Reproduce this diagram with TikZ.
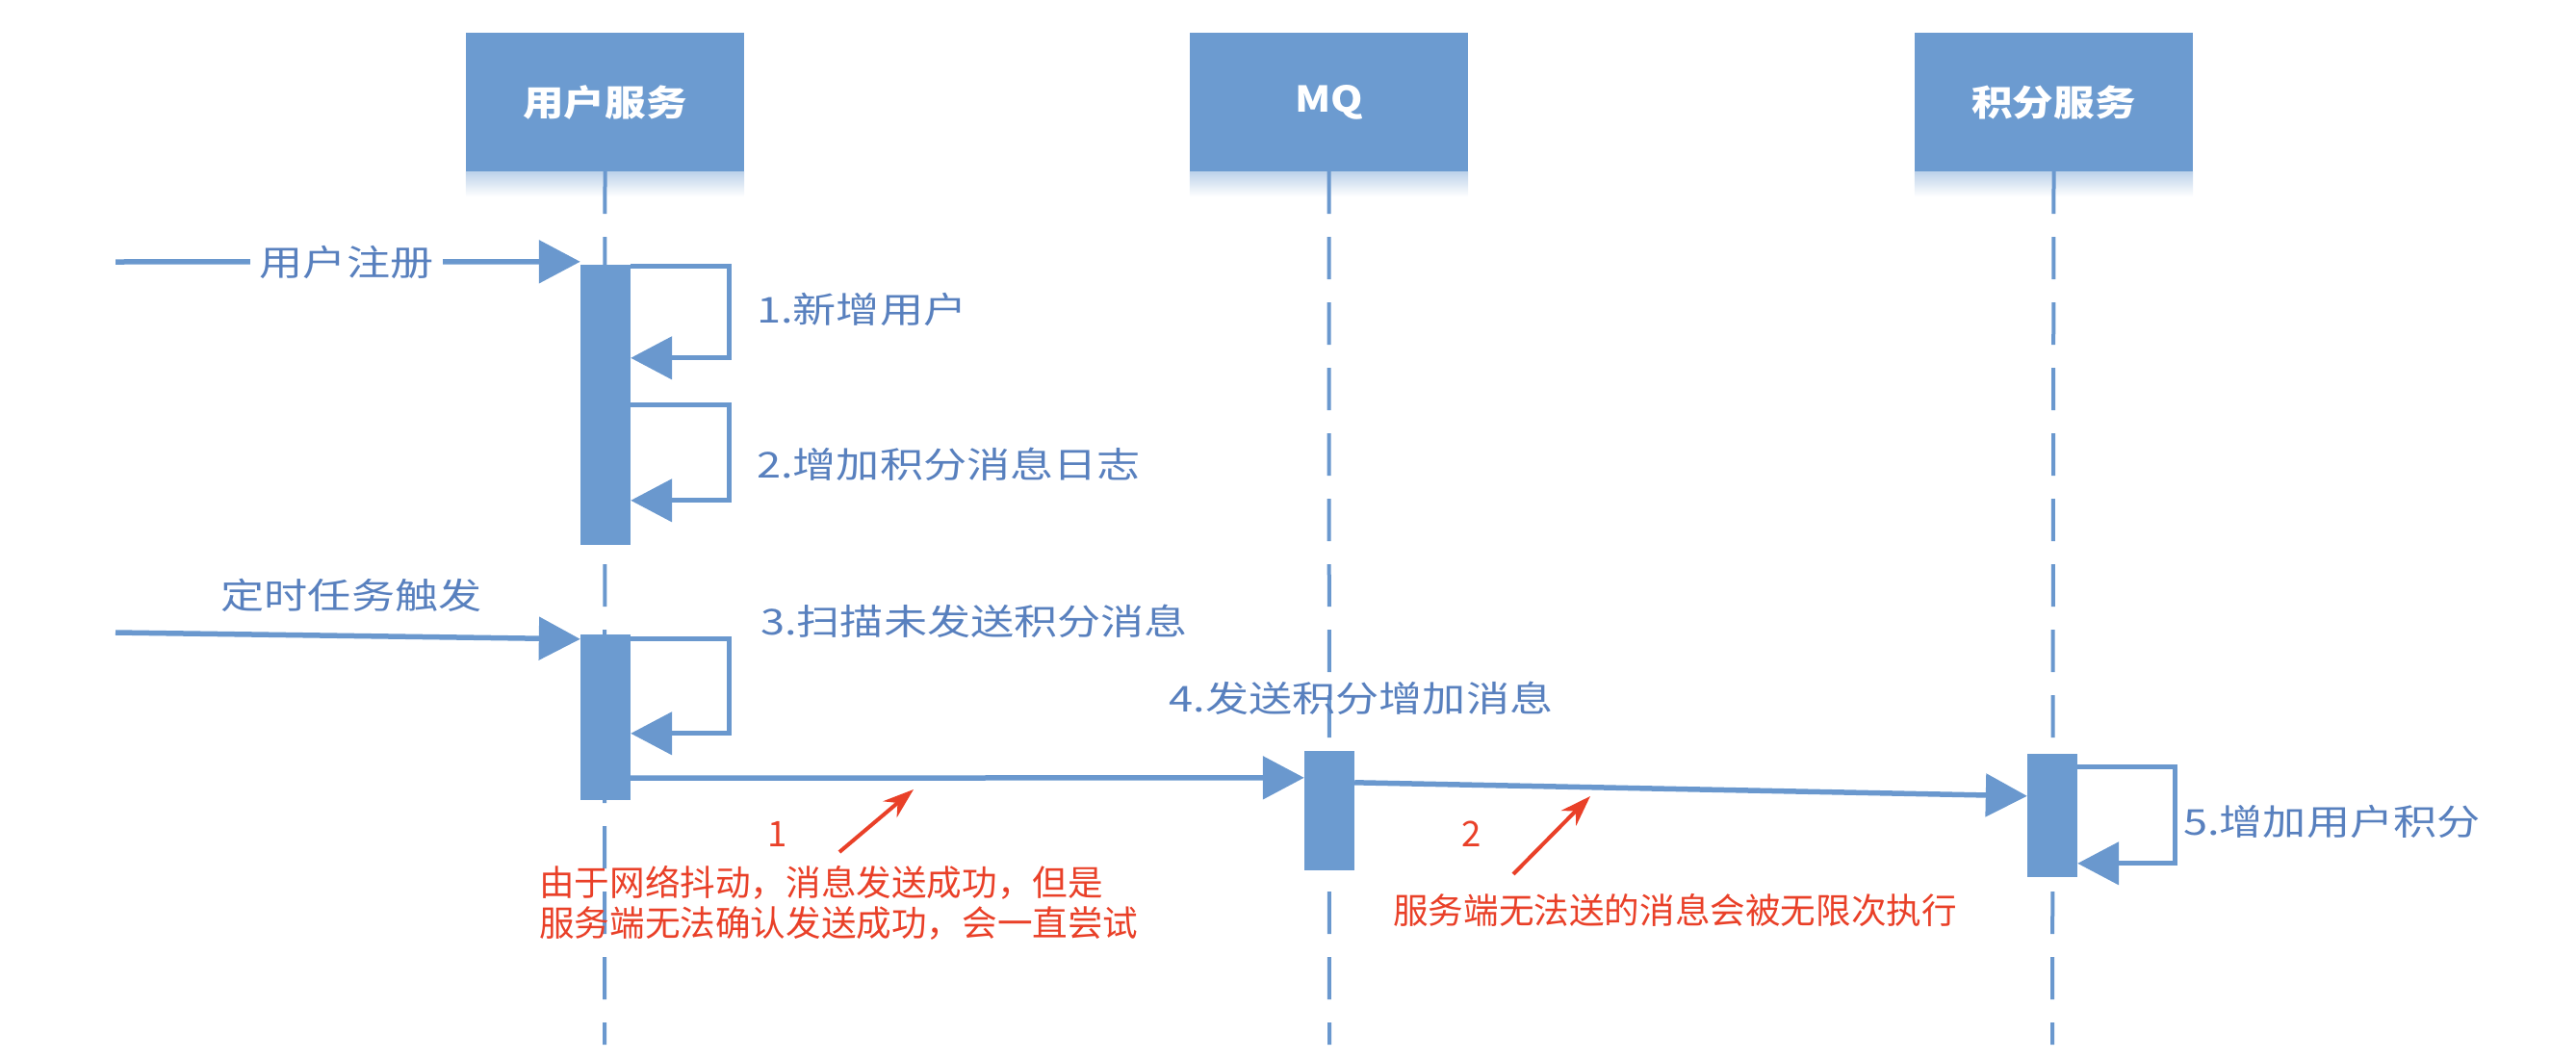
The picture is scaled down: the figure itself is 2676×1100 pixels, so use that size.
\documentclass[tikz,border=0pt]{standalone}
\usepackage{fontspec}
\usetikzlibrary{arrows.meta,calc}
\newfontfamily\cjkwide[FakeStretch=1.22]{Noto Sans CJK SC}
\newfontfamily\cjkbox[FakeStretch=1.15]{Noto Sans CJK SC}
\newfontfamily\cjkred{Noto Sans CJK SC}
\definecolor{boxblue}{RGB}{108,155,208}
\definecolor{lineblue}{RGB}{106,152,206}
\definecolor{txtblue}{RGB}{88,128,190}
\definecolor{anred}{RGB}{233,64,40}
\begin{document}
\begin{tikzpicture}[x=1pt,y=-1pt,
  actor/.style={fill=boxblue, minimum width=289pt, minimum height=144pt, inner sep=0pt,
    font=\cjkbox\bfseries\fontsize{37}{40}\selectfont, text=white},
  bar/.style={fill=boxblue, minimum width=52pt, inner sep=0pt},
  life/.style={draw=lineblue, line width=4pt, dash pattern=on 44pt off 24pt},
  msg/.style={draw=lineblue, line width=5.5pt, -{Triangle[length=43pt,width=44pt]}},
  lbl/.style={text=txtblue, font=\cjkwide\fontsize{37}{40}\selectfont, inner sep=0pt},
  note/.style={text=anred, font=\cjkred\fontsize{36.6}{42}\selectfont, inner sep=0pt},
  redarrow/.style={draw=anred, line width=4pt, -{Stealth[length=32pt,width=22pt]}}
]
\useasboundingbox (0,0) rectangle (2676,1100);

% actors
\node[actor] (us) at (628.5,106) {用户服务};
\node[actor] (mq) at (1380.5,106) {MQ};
\node[actor] (ps) at (2133.5,106) {积分服务};

% shadows
\foreach \a in {us,mq,ps}{
  \shade[top color=boxblue!45, bottom color=white] (\a.south west) rectangle ($(\a.south east)+(0,26)$);
}

% lifelines
\coordinate (usend) at (628,1085);
\coordinate (mqend) at (1381,1085);
\coordinate (psend) at (2132,1085);
\draw[life] (us.south) -- (usend);
\draw[life] (mq.south) -- (mqend);
\draw[life] (ps.south) -- (psend);

% activation bars
\node[bar, minimum height=291pt] (u1) at (629,420.5) {};
\node[bar, minimum height=172pt] (u2) at (629,745) {};
\node[bar, minimum height=124pt] (m1) at (1381,842) {};
\node[bar, minimum height=128pt] (p1) at (2132,847) {};

% incoming messages
\coordinate (reg) at (120,272);
\draw[msg] (reg) -- ($(u1.north west)+(0,-3)$);
\node[lbl, fill=white, inner xsep=10pt, inner ysep=4pt] (regl) at (360,272) {用户注册};

\coordinate (tim) at (120,657);
\draw[msg] (tim) -- ($(u2.north west)+(0,5)$);
\node[lbl] (timl) at (365,618) {定时任务触发};

% self messages
\draw[msg, line width=5pt] ($(u1.north east)+(0,2)$) -- ++(102,0) -- ++(0,95) -- ($(u1.north east)+(0,97)$);
\node[lbl, anchor=west] (l1) at (786,321) {1.新增用户};

\draw[msg, line width=5pt] ($(u1.north east)+(0,146)$) -- ++(102,0) -- ++(0,99) -- ($(u1.north east)+(0,245)$);
\node[lbl, anchor=west] (l2) at (786,482) {2.增加积分消息日志};

\draw[msg, line width=5pt] ($(u2.north east)+(0,5)$) -- ++(102,0) -- ++(0,98) -- ($(u2.north east)+(0,103)$);
\node[lbl, anchor=west] (l3) at (790,645) {3.扫描未发送积分消息};

\draw[msg, line width=5pt] ($(p1.north east)+(0,14)$) -- ++(101,0) -- ++(0,100) -- ($(p1.north east)+(0,114)$);
\node[lbl, anchor=west] (l5) at (2268,853) {5.增加用户积分};

% message 4
\draw[msg] ($(u2.south east)+(0,-23)$) -- ($(m1.north west)+(0,28)$);
\node[lbl] (l4) at (1414,725) {4.发送积分增加消息};

% MQ -> points service
\draw[msg] ($(m1.north east)+(0,33)$) -- ($(p1.north west)+(0,44)$);

% red annotations
\node[note] (n1) at (808,866) {1};
\coordinate (a1s) at (872,885);
\coordinate (a1e) at (949,820);
\draw[redarrow] (a1s) -- (a1e);
\node[note, anchor=west] (t1a) at (560,917) {由于网络抖动，消息发送成功，但是};
\node[note, anchor=west] (t1b) at (560,959) {服务端无法确认发送成功，会一直尝试};

\node[note] (n2) at (1529,866) {2};
\coordinate (a2s) at (1572,908);
\coordinate (a2e) at (1652,827);
\draw[redarrow] (a2s) -- (a2e);
\node[note, anchor=west] (t2) at (1447,945) {服务端无法送的消息会被无限次执行};
\end{tikzpicture}
\end{document}
